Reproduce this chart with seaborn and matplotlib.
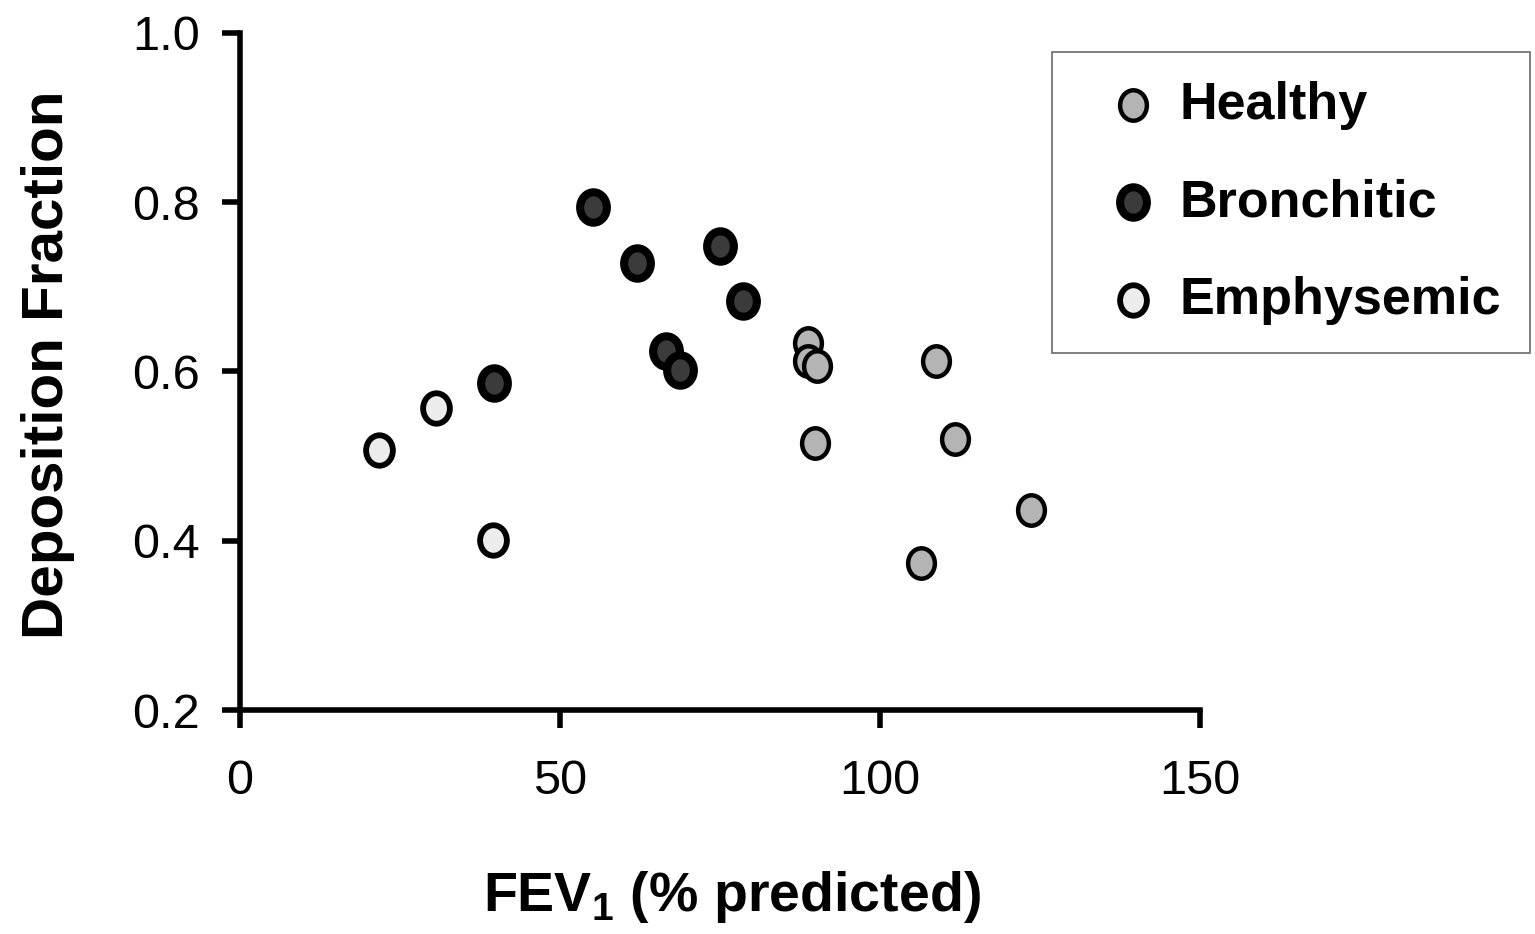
import numpy as np
import pandas as pd
import seaborn as sns
import matplotlib.pyplot as plt
from matplotlib.path import Path
from matplotlib.transforms import Affine2D

# values
healthy_x = [88.8, 88.8, 90.2, 89.8, 108.8, 111.7, 106.4, 123.6]
healthy_y = [0.634, 0.612, 0.606, 0.516, 0.612, 0.520, 0.374, 0.436]
bronch_x = [55.2, 62.0, 75.0, 78.6, 66.6, 68.8, 39.7]
bronch_y = [0.794, 0.728, 0.748, 0.683, 0.624, 0.602, 0.587]
emph_x = [21.7, 30.6, 39.5]
emph_y = [0.507, 0.557, 0.401]

groups = ["Healthy", "Bronchitic", "Emphysemic"]
fills = ["#b4b4b4", "#3b3b3b", "#ececec"]
edge_w = [3.2, 5.8, 4.2]

sns.set_theme(style="white")
plt.rcParams['font.family'] = ['Liberation Sans', 'DejaVu Sans']
plt.rcParams['mathtext.fontset'] = 'custom'
plt.rcParams['mathtext.rm'] = 'Liberation Sans:bold'
plt.rcParams['mathtext.bf'] = 'Liberation Sans:bold'

# slightly tall ellipse marker
ellipse = Path.unit_circle().transformed(Affine2D().scale(0.88, 1.0))

fig = plt.figure(figsize=(15.35, 9.34), dpi=100)
ax = fig.add_axes([0.1564, 0.2398, 0.6254, 0.7249])

data = [(healthy_x, healthy_y), (bronch_x, bronch_y), (emph_x, emph_y)]
for (xs, ys), name, fc, lw in zip(data, groups, fills, edge_w):
    df = pd.DataFrame({"x": xs, "y": ys})
    sns.scatterplot(data=df, x="x", y="y", ax=ax, marker=ellipse, s=480,
                    color=fc, edgecolor="black", linewidth=lw, label=name, zorder=3)

ax.set_xlim(0, 150)
ax.set_ylim(0.2, 1.0)
ax.set_xticks([0, 50, 100, 150])
ax.set_yticks([0.2, 0.4, 0.6, 0.8, 1.0])
ax.set_yticklabels(["0.2", "0.4", "0.6", "0.8", "1.0"])

sns.despine(ax=ax)
for sp in ["left", "bottom"]:
    ax.spines[sp].set_linewidth(4)
    ax.spines[sp].set_color("black")
ax.tick_params(axis="both", direction="out", length=13, width=4, color="black",
               labelsize=35, labelcolor="black", bottom=True, left=True)
ax.tick_params(axis="y", pad=16)
ax.tick_params(axis="x", pad=22)

ax.set_xlabel(r"FEV$_{1}$ (% predicted)", fontsize=40, fontweight="bold", color="black")
ax.set_ylabel("Deposition Fraction", fontsize=42, fontweight="bold", color="black")
ax.xaxis.set_label_coords(0.5125, -0.235)
ax.yaxis.set_label_coords(-0.172, 0.51)

leg = ax.legend(loc="upper left", bbox_to_anchor=(0.6853, 0.9443),
                bbox_transform=fig.transFigure, borderaxespad=0,
                prop={"family": "Liberation Sans", "weight": "bold", "size": 37.5},
                frameon=True, fancybox=False, borderpad=0.55, labelspacing=0.93,
                handlelength=2.0, handletextpad=-0.1, markerscale=1.0,
                labelcolor="black")
leg.get_frame().set_edgecolor("#444444")
leg.get_frame().set_linewidth(1.2)

fig.savefig("out.png", dpi=100)
